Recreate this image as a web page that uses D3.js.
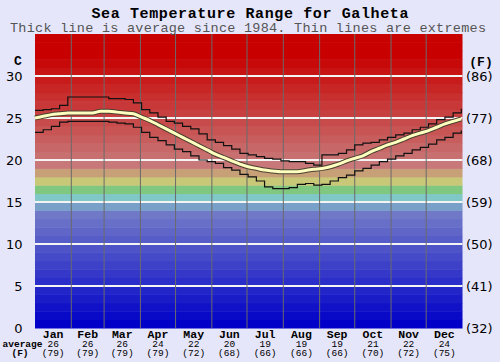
<!DOCTYPE html>
<html>
<head>
<meta charset="utf-8" />
<style>
  body { margin: 0; background: #e6e6fa; }
  svg { display: block; }
  .mono { font-family: "Liberation Mono", "DejaVu Sans Mono", monospace; }
  .sans { font-family: "DejaVu Sans", Verdana, sans-serif; }
</style>
</head>
<body>
<svg id="chart" width="500" height="362"></svg>
<script src="https://cdn.jsdelivr.net/npm/d3@7/dist/d3.min.js"></script>
<script>
var months = ['Jan', 'Feb', 'Mar', 'Apr', 'May', 'Jun', 'Jul', 'Aug', 'Sep', 'Oct', 'Nov', 'Dec'];
var monthStarts = [0, 31, 59, 90, 120, 151, 181, 212, 243, 273, 304, 334, 365];
var monthAvgC = ['26', '26', '26', '24', '22', '20', '19', '19', '19', '21', '22', '24'];
var monthAvgF = ['(79)', '(79)', '(79)', '(79)', '(72)', '(68)', '(66)', '(66)', '(66)', '(70)', '(72)', '(75)'];

// day of year for each reading
var days = [0, 7, 14, 21, 28, 35, 42, 49, 56, 63, 70, 77, 84, 91, 98, 105, 112, 119, 126,
  133, 140, 147, 154, 161, 168, 175, 182, 189, 196, 203, 210, 217, 224, 231, 238, 245,
  252, 259, 266, 273, 280, 287, 294, 301, 308, 315, 322, 329, 336, 343, 350, 357, 364];
var maxTemp = [25.9, 26.0, 26.1, 26.5, 27.5, 27.5, 27.5, 27.5, 27.5, 27.3, 27.3, 27.2, 26.8,
  26.0, 25.6, 25.1, 24.6, 24.4, 24.0, 23.7, 23.1, 22.4, 22.1, 21.7, 21.3, 20.8, 20.6, 20.4,
  20.2, 20.1, 19.9, 19.8, 19.8, 19.6, 19.4, 20.6, 20.6, 20.8, 21.2, 21.8, 22.0, 22.1, 22.4,
  22.7, 23.0, 23.2, 23.6, 23.9, 24.3, 24.8, 25.1, 25.6, 26.1];
var minTemp = [23.3, 23.6, 24.0, 24.5, 24.6, 24.6, 24.6, 24.6, 24.6, 24.5, 24.4, 24.3, 23.9,
  23.3, 22.7, 22.3, 21.8, 21.3, 21.0, 20.5, 20.0, 19.8, 19.6, 19.1, 18.8, 18.3, 18.0, 17.5,
  16.8, 16.6, 16.6, 16.7, 17.1, 17.2, 17.0, 17.1, 17.5, 17.9, 18.2, 18.7, 19.0, 19.4, 19.8,
  20.1, 20.5, 20.8, 21.2, 21.5, 21.9, 22.4, 22.7, 23.2, 23.5];
var avgTemp = [25.0, 25.2, 25.4, 25.5, 25.6, 25.6, 25.6, 25.6, 25.8, 25.8, 25.7, 25.6, 25.5,
  25.1, 24.7, 24.2, 23.7, 23.2, 22.7, 22.2, 21.7, 21.2, 20.7, 20.3, 19.9, 19.5, 19.2, 19.0,
  18.8, 18.7, 18.6, 18.6, 18.6, 18.75, 18.9, 19.0, 19.2, 19.5, 19.9, 20.2, 20.5, 21.0, 21.4,
  21.8, 22.1, 22.5, 22.9, 23.2, 23.5, 23.9, 24.3, 24.6, 24.9];

var cTicks = [0, 5, 10, 15, 20, 25, 30];
var fTicks = ['(32)', '(41)', '(50)', '(59)', '(68)', '(77)', '(86)'];

var svg = d3.select('#chart');
var plotLeft = 35, plotRight = 462.5, plotTop = 34, plotBottom = 328;

var x = d3.scaleLinear().domain([0, 365]).range([plotLeft, plotRight]);
var y = d3.scaleLinear().domain([0, 35]).range([plotBottom, plotTop]);

// colour for the one-degree band starting at t
var blue = d3.interpolateRgb('#0000c8', '#7078c8');
var red = d3.interpolateRgb('#c87070', '#c80000');
var mid = { 14: '#78a0c8', 15: '#80c8c8', 16: '#80c880', 17: '#c8c878', 18: '#c8a078', 19: '#c87878' };
function bandColor(t) {
  if (t < 14) return blue(t / 13);
  if (mid[t]) return mid[t];
  return red((t - 20) / 12);
}

svg.append('g').selectAll('rect')
  .data(d3.range(0, 35))
  .enter().append('rect')
    .attr('x', plotLeft)
    .attr('width', plotRight - plotLeft)
    .attr('y', function (d) { return y(d + 1); })
    .attr('height', function (d) { return y(d) - y(d + 1) + 0.5; })
    .attr('fill', bandColor);

// white lines at the labelled degrees
svg.append('g').selectAll('line')
  .data(cTicks.slice(1))
  .enter().append('line')
    .attr('x1', plotLeft).attr('x2', plotRight)
    .attr('y1', function (d) { return y(d); })
    .attr('y2', function (d) { return y(d); })
    .attr('stroke', '#f4f4f4')
    .attr('stroke-width', 1.8);

// month separators
svg.append('g').selectAll('line')
  .data(monthStarts.slice(1, 12))
  .enter().append('line')
    .attr('x1', function (d) { return x(d); })
    .attr('x2', function (d) { return x(d); })
    .attr('y1', plotTop).attr('y2', plotBottom)
    .attr('stroke', '#6a6a6a')
    .attr('stroke-width', 1);

var stepLine = d3.line()
  .x(function (d, i) { return x(days[i]); })
  .y(function (d) { return y(d); })
  .curve(d3.curveStepAfter);

[maxTemp, minTemp].forEach(function (s) {
  svg.append('path')
    .datum(s)
    .attr('d', stepLine)
    .attr('fill', 'none')
    .attr('stroke', '#111')
    .attr('stroke-width', 1.2);
});

var avgLine = d3.line()
  .x(function (d, i) { return x(days[i]); })
  .y(function (d) { return y(d); })
  .curve(d3.curveMonotoneX);

svg.append('path')
  .datum(avgTemp)
  .attr('d', avgLine)
  .attr('fill', 'none')
  .attr('stroke', '#4a4030')
  .attr('stroke-width', 5);
svg.append('path')
  .datum(avgTemp)
  .attr('d', avgLine)
  .attr('fill', 'none')
  .attr('stroke', '#ffffc0')
  .attr('stroke-width', 3);

// titles
svg.append('text')
  .attr('class', 'mono')
  .attr('x', 250).attr('y', 17.5)
  .attr('text-anchor', 'middle')
  .attr('font-size', 15)
  .attr('font-weight', 'bold')
  .attr('textLength', 317)
  .text('Sea Temperature Range for Galheta');
svg.append('text')
  .attr('class', 'mono')
  .attr('x', 248).attr('y', 31.5)
  .attr('text-anchor', 'middle')
  .attr('font-size', 13.5)
  .attr('fill', '#555')
  .attr('textLength', 476)
  .text('Thick line is average since 1984. Thin lines are extremes');

// axis labels
svg.append('text').attr('class', 'mono')
  .attr('x', 18).attr('y', 65).attr('text-anchor', 'middle')
  .attr('font-size', 13).attr('font-weight', 'bold').text('C');
svg.append('text').attr('class', 'mono')
  .attr('x', 481).attr('y', 65.5).attr('text-anchor', 'middle')
  .attr('font-size', 13).attr('font-weight', 'bold').text('(F)');

svg.append('g').selectAll('text')
  .data(cTicks)
  .enter().append('text')
    .attr('class', 'sans')
    .attr('x', 22.5)
    .attr('y', function (d) { return y(d); })
    .attr('dy', '0.36em')
    .attr('text-anchor', 'end')
    .attr('font-size', 13)
    .text(function (d) { return d; });

svg.append('g').selectAll('text')
  .data(fTicks)
  .enter().append('text')
    .attr('class', 'sans')
    .attr('x', 466)
    .attr('y', function (d, i) { return y(cTicks[i]); })
    .attr('dy', '0.36em')
    .attr('font-size', 13)
    .text(function (d) { return d; });

// month labels and monthly averages
var mg = svg.append('g').attr('class', 'mono').attr('text-anchor', 'middle');
months.forEach(function (m, i) {
  var cx = x((monthStarts[i] + monthStarts[i + 1]) / 2);
  mg.append('text').attr('x', cx).attr('y', 337.5)
    .attr('font-size', 11.5).attr('font-weight', 'bold').text(m);
  mg.append('text').attr('x', cx).attr('y', 346.5)
    .attr('font-size', 9.5).text(monthAvgC[i]);
  mg.append('text').attr('x', cx).attr('y', 355.5)
    .attr('font-size', 9.5).text(monthAvgF[i]);
});
mg.append('text').attr('x', 22.5).attr('y', 346.5)
  .attr('font-size', 9.5).attr('font-weight', 'bold').text('average');
mg.append('text').attr('x', 20).attr('y', 355.5)
  .attr('font-size', 9.5).attr('font-weight', 'bold').text('(F)');
</script>
</body>
</html>
